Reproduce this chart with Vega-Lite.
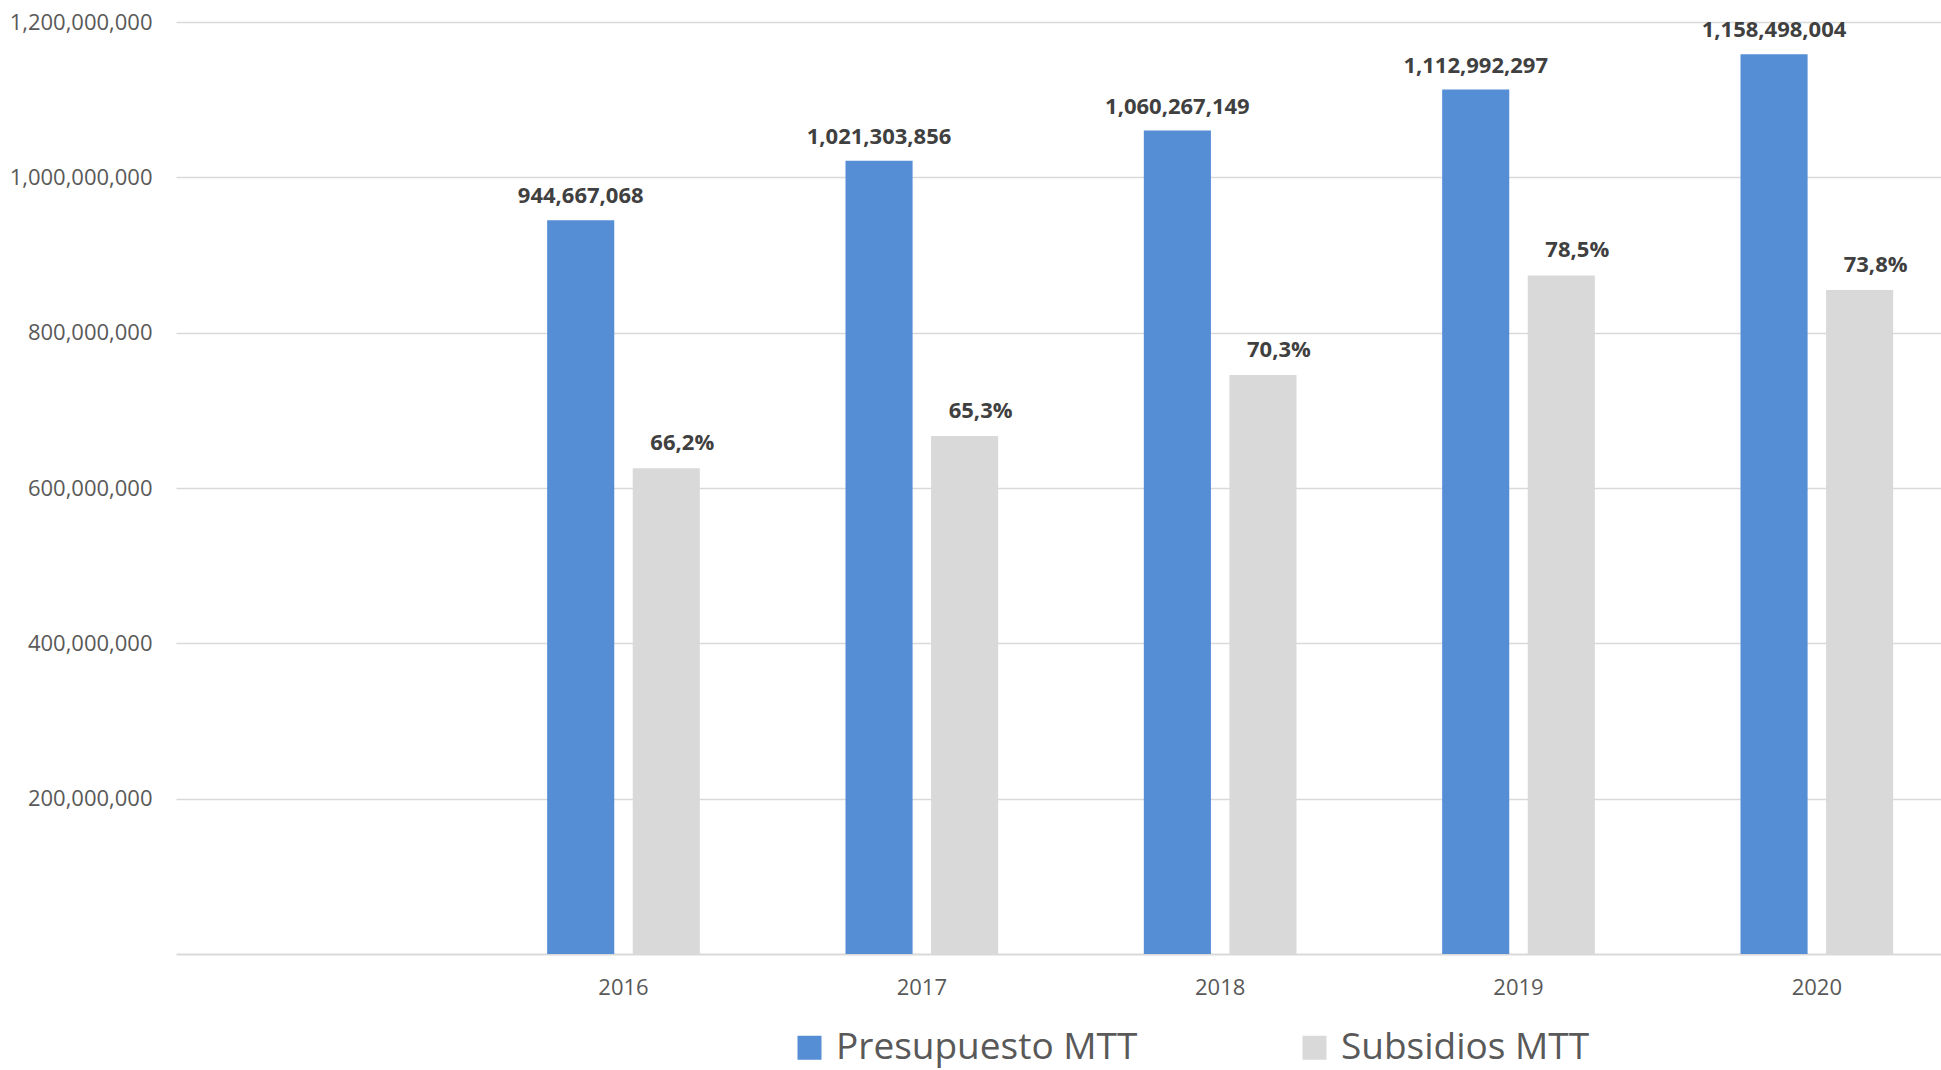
{
  "$schema": "https://vega.github.io/schema/vega-lite/v6.json",
  "autosize": {"type": "none"},
  "padding": {"left": 176, "top": 22, "right": 0, "bottom": 116},
  "width": 1765,
  "height": 932,
  "background": "white",
  "config": {
    "font": "Open Sans",
    "view": {"stroke": null}
  },
  "data": {
    "values": [
      {"year": "2016", "serie": "Presupuesto MTT", "value": 944667068, "label": "944,667,068"},
      {"year": "2016", "serie": "Subsidios MTT", "value": 625369599, "label": "66,2%"},
      {"year": "2017", "serie": "Presupuesto MTT", "value": 1021303856, "label": "1,021,303,856"},
      {"year": "2017", "serie": "Subsidios MTT", "value": 666911418, "label": "65,3%"},
      {"year": "2018", "serie": "Presupuesto MTT", "value": 1060267149, "label": "1,060,267,149"},
      {"year": "2018", "serie": "Subsidios MTT", "value": 745367806, "label": "70,3%"},
      {"year": "2019", "serie": "Presupuesto MTT", "value": 1112992297, "label": "1,112,992,297"},
      {"year": "2019", "serie": "Subsidios MTT", "value": 873698953, "label": "78,5%"},
      {"year": "2020", "serie": "Presupuesto MTT", "value": 1158498004, "label": "1,158,498,004"},
      {"year": "2020", "serie": "Subsidios MTT", "value": 854971527, "label": "73,8%"}
    ]
  },
  "encoding": {
    "x": {
      "field": "year", "type": "nominal",
      "scale": {"domain": [" ", "2016", "2017", "2018", "2019", "2020"], "range": [0, 1790], "paddingInner": 0, "paddingOuter": 0},
      "axis": {"title": null, "labelAngle": 0, "ticks": false, "grid": false, "domain": true, "domainColor": "#d9d9d9", "domainWidth": 2, "labelColor": "#595959", "labelFontSize": 22, "labelPadding": 23}
    },
    "xOffset": {
      "field": "serie", "type": "nominal",
      "scale": {"domain": ["Presupuesto MTT", "Subsidios MTT"], "paddingInner": 0.216, "paddingOuter": 0.851}
    },
    "y": {
      "field": "value", "type": "quantitative",
      "scale": {"domain": [0, 1200000000], "nice": false},
      "axis": {"title": null, "values": [200000000, 400000000, 600000000, 800000000, 1000000000, 1200000000], "format": ",d", "grid": true, "gridColor": "#d9d9d9", "gridWidth": 1.5, "domain": false, "ticks": false, "labelColor": "#595959", "labelFontSize": 22, "labelPadding": 24}
    }
  },
  "layer": [
    {
      "mark": {"type": "bar"},
      "encoding": {
        "color": {
          "field": "serie", "type": "nominal",
          "scale": {"domain": ["Presupuesto MTT", "Subsidios MTT"], "range": ["#558ed5", "#d9d9d9"]},
          "legend": {
            "title": null, "orient": "none", "direction": "horizontal",
            "legendX": 615, "legendY": 1007,
            "symbolType": "square", "symbolSize": 576, "symbolStrokeWidth": 0,
            "labelFontSize": 37, "labelColor": "#595959", "labelOffset": 8,
            "columnPadding": 158, "labelLimit": 500
          }
        }
      }
    },
    {
      "transform": [{"filter": "datum.serie == 'Presupuesto MTT'"}],
      "mark": {"type": "text", "baseline": "bottom", "dy": -12, "fontWeight": "bold", "fontSize": 22, "color": "#404040"},
      "encoding": {"text": {"field": "label"}}
    },
    {
      "transform": [{"filter": "datum.serie == 'Subsidios MTT'"}],
      "mark": {"type": "text", "baseline": "bottom", "dy": -13, "dx": 16, "fontWeight": "bold", "fontSize": 22, "color": "#404040"},
      "encoding": {"text": {"field": "label"}}
    }
  ]
}
